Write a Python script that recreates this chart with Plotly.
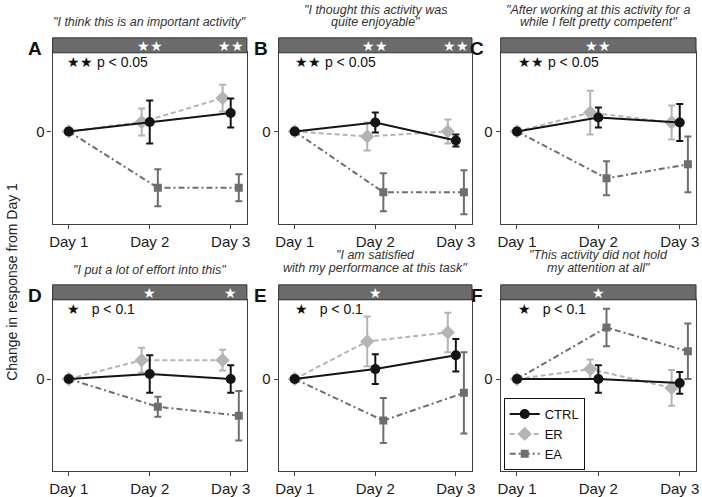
import plotly.graph_objects as go

W, H = 702, 497

days = ["Day 1", "Day 2", "Day 3"]
groups = ["CTRL", "ER", "EA"]
panel_letters = ["A", "B", "C", "D", "E", "F"]
# panel titles, one list of lines per panel
panel_titles = [
    ['"I think this is an important activity"'],
    ['"I thought this activity was', 'quite enjoyable"'],
    ['"After working at this activity for a', 'while I felt pretty competent"'],
    ['"I put a lot of effort into this"'],
    ['"I am satisfied', 'with my performance at this task"'],
    ['"This activity did not hold', 'my attention at all"'],
]
# significance stars shown in the strip, per day
strip_stars = [
    ["", "★★", "★★"],
    ["", "★★", "★★"],
    ["", "★★", ""],
    ["", "★", "★"],
    ["", "★", ""],
    ["", "★", ""],
]
sig_labels = ["★★ p < 0.05"] * 3 + ["★\u00a0\u00a0\u00a0p < 0.1"] * 3

# mean change from Day 1 and error (half-width), per panel
ctrl_mean = [[0, 0.095, 0.185], [0, 0.09, -0.09], [0, 0.14, 0.09],
             [0, 0.05, 0.0], [0, 0.10, 0.24], [0, 0.0, -0.04]]
ctrl_err = [[0, 0.215, 0.145], [0, 0.10, 0.06], [0, 0.10, 0.185],
            [0, 0.19, 0.14], [0, 0.15, 0.165], [0, 0.14, 0.11]]
er_mean = [[0, 0.095, 0.335], [0, -0.05, 0.0], [0, 0.19, 0.09],
           [0, 0.19, 0.19], [0, 0.38, 0.47], [0, 0.10, -0.09]]
er_err = [[0, 0.135, 0.135], [0, 0.14, 0.12], [0, 0.22, 0.17],
          [0, 0.125, 0.105], [0, 0.25, 0.20], [0, 0.097, 0.18]]
ea_mean = [[0, -0.565, -0.565], [0, -0.61, -0.61], [0, -0.47, -0.33],
           [0, -0.28, -0.37], [0, -0.42, -0.14], [0, 0.52, 0.28]]
ea_err = [[0, 0.185, 0.135], [0, 0.19, 0.22], [0, 0.17, 0.28],
          [0, 0.10, 0.25], [0, 0.227, 0.41], [0, 0.19, 0.28]]


def px_x(p):
    return p / W


def px_y(p):
    return 1 - p / H


FONT = "Arial, Liberation Sans, sans-serif"
col_x = [(50, 246), (278, 473), (502, 699)]
row_y = [(52, 225), (301, 473)]
strip_y = [(38, 53), (286, 301)]
letter_x = [32, 260, 478]
sig_x = [63, 293, 517]
# vertical centres of title lines (1-line / 2-line) per row
title_y = [{1: [22.5], 2: [10, 22.5]}, {1: [271], 2: [256, 269.5]}]

styles = {
    "CTRL": dict(color="#141414", dash="solid", symbol="circle", size=10, dodge=0.0),
    "ER": dict(color="#b4b4b4", dash="5px,3px", symbol="diamond", size=11, dodge=-0.1),
    "EA": dict(color="#6e6e6e", dash="6px,3px,2px,3px", symbol="square", size=8, dodge=0.1),
}
data_sets = {"CTRL": (ctrl_mean, ctrl_err), "ER": (er_mean, er_err), "EA": (ea_mean, ea_err)}

fig = go.Figure()
annotations = []
shapes = []

for i in range(6):
    r, c = divmod(i, 3)
    n = "" if i == 0 else str(i + 1)
    xa, ya = "x" + n, "y" + n
    for g in ["EA", "ER", "CTRL"]:
        st = styles[g]
        mean, err = data_sets[g]
        xs = [d + 1 + (st["dodge"] if d > 0 else 0) for d in range(len(days))]
        fig.add_trace(go.Scatter(
            x=xs, y=mean[i], xaxis=xa, yaxis=ya, name=g,
            mode="lines+markers", legendgroup=g, showlegend=(i == 0),
            line=dict(color=st["color"], width=2, dash=st["dash"]),
            marker=dict(color=st["color"], symbol=st["symbol"], size=st["size"]),
            error_y=dict(type="data", array=err[i], color=st["color"], thickness=2, width=3.5),
        ))

    axis_common = dict(showline=True, mirror=True, linecolor="#404040", linewidth=1.2,
                       showgrid=False, zeroline=False, ticks="outside", ticklen=4,
                       tickcolor="#404040", tickfont=dict(size=15, color="#1a1a1a", family=FONT))
    fig.update_layout({
        "xaxis" + n: dict(axis_common, domain=[px_x(col_x[c][0]), px_x(col_x[c][1])],
                          range=[0.8, 3.2], tickvals=[1, 2, 3], ticktext=days,
                          anchor=ya),
        "yaxis" + n: dict(axis_common, domain=[px_y(row_y[r][1]), px_y(row_y[r][0])],
                          range=[-0.93, 0.80], tickvals=[0], ticktext=["0"],
                          anchor=xa),
    })

    # grey strip above each panel
    shapes.append(dict(type="rect", xref="paper", yref="paper",
                       x0=px_x(col_x[c][0]), x1=px_x(col_x[c][1]),
                       y0=px_y(strip_y[r][1]), y1=px_y(strip_y[r][0]),
                       fillcolor="#6b6b6b", line=dict(color="#333333", width=1)))
    for d, s in enumerate(strip_stars[i]):
        if s:
            annotations.append(dict(text=s, x=d + 1, xref=xa, y=px_y(sum(strip_y[r]) / 2 + 0.5),
                                    yref="paper", showarrow=False, xanchor="center", yanchor="middle",
                                    font=dict(color="white", size=14, family=FONT)))
    # title above strip
    lines = panel_titles[i]
    for line, ly in zip(lines, title_y[r][len(lines)]):
        annotations.append(dict(text="<i>" + line + "</i>", x=px_x(sum(col_x[c]) / 2),
                                y=px_y(ly), xref="paper", yref="paper",
                                showarrow=False, xanchor="center", yanchor="middle",
                                font=dict(size=12.5, color="#333333", family=FONT)))
    # panel letter
    annotations.append(dict(text="<b>" + panel_letters[i] + "</b>", x=px_x(letter_x[c]),
                            y=px_y(strip_y[r][0] + 11), xref="paper", yref="paper",
                            showarrow=False, xanchor="center", yanchor="middle",
                            font=dict(size=19, color="#111111", family=FONT)))
    # significance legend inside panel
    annotations.append(dict(text=sig_labels[i], x=px_x(sig_x[c]), y=px_y(strip_y[r][1] + 9),
                            xref="paper", yref="paper", showarrow=False, xanchor="left",
                            yanchor="middle",
                            font=dict(size=14, color="#111111", family=FONT)))

annotations.append(dict(text="Change in response from Day 1", x=px_x(9), y=px_y(283),
                        xref="paper", yref="paper", showarrow=False, textangle=-90,
                        xanchor="center", yanchor="middle",
                        font=dict(size=14, color="#222222", family=FONT)))

fig.update_layout(
    width=W, height=H,
    margin=dict(l=0, r=0, t=0, b=0),
    paper_bgcolor="white", plot_bgcolor="white",
    font=dict(family=FONT),
    shapes=shapes, annotations=annotations,
    legend=dict(x=px_x(505), y=px_y(472), xanchor="left", yanchor="bottom",
                bgcolor="white", bordercolor="#111111", borderwidth=1,
                traceorder="reversed", itemwidth=30, tracegroupgap=0,
                font=dict(size=13, color="#111111", family=FONT)),
)

fig.write_html("out.html", config={"displayModeBar": False},
               post_script="document.body.style.margin='0';")
